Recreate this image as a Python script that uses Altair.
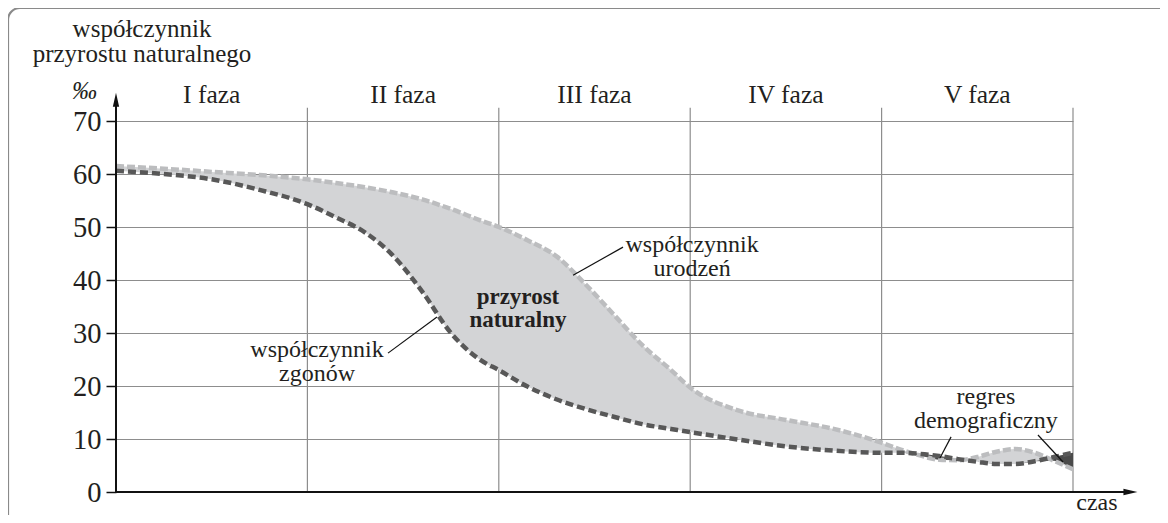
import altair as alt
import pandas as pd

FONT = "Liberation Serif"
INK = "#231f20"

# ---- data ----
PHASES = ["I faza", "II faza", "III faza", "IV faza", "V faza"]
PHASE_CENTERS = [0.5, 1.5, 2.5, 3.5, 4.5]
PHASE_BOUNDS = [1, 2, 3, 4, 5]
Y_TICKS = [0, 10, 20, 30, 40, 50, 60, 70]

X = [0, 0.25, 0.5, 0.75, 1.0, 1.15, 1.3, 1.45, 1.6, 1.75, 1.9,
     2.0, 2.15, 2.3, 2.45, 2.6, 2.75, 2.9, 3.0, 3.25, 3.5, 3.75,
     4.0, 4.1, 4.2, 4.3, 4.4, 4.5, 4.6, 4.7, 4.8, 4.9, 5.0]
BIRTH = [61.5, 61.0, 60.4, 59.8, 59.0, 58.3, 57.5, 56.5, 55.2, 53.4, 51.3,
         50.0, 47.5, 44.5, 39.3, 33.5, 27.7, 23.0, 19.7, 15.4, 13.6, 11.9,
         9.3, 8.0, 6.9, 6.1, 6.0, 6.6, 7.6, 8.1, 7.4, 5.9, 4.3]
DEATH = [60.6, 60.0, 59.0, 57.0, 54.3, 51.8, 49.0, 44.5, 37.8, 30.0, 25.0,
         23.0, 19.9, 17.5, 15.7, 14.2, 12.8, 11.9, 11.3, 9.9, 8.6, 7.8,
         7.4, 7.4, 7.2, 6.8, 6.2, 5.7, 5.3, 5.3, 5.8, 6.6, 7.4]

# annotation texts (centre x in phase units, first-line baseline in per-mille units)
TITLE_TEXT = ["współczynnik\nprzyrostu naturalnego"]
TITLE_X = [0.136]
TITLE_Y = [85.9]

LABEL_TEXT = ["współczynnik\nurodzeń", "współczynnik\nzgonów",
              "regres\ndemograficzny", "czas"]
LABEL_X = [3.01, 1.05, 4.545, 5.125]
LABEL_Y = [45.2, 25.5, 16.6, -3.4]

BOLD_TEXT = ["przyrost\nnaturalny"]
BOLD_X = [2.10]
BOLD_Y = [35.5]

PERMILLE_X = [-0.165]
PERMILLE_Y = [74.1]
PHASE_LABEL_Y = [73.4] * 5

# leader lines
LEAD_X = [2.649, 1.421, 4.363, 4.817]
LEAD_Y = [46.2, 26.2, 10.4, 10.75]
LEAD_X2 = [2.388, 1.677, 4.305, 4.948]
LEAD_Y2 = [40.9, 33.0, 6.4, 5.66]

# ---- scales / axes ----
xs = alt.Scale(domain=[0, 5], nice=False, zero=False)
ys = alt.Scale(domain=[0, 70], nice=False, zero=False)
YAXIS = alt.Axis(values=Y_TICKS, title=None, grid=True, gridColor="#8d8d8d",
                 gridWidth=1.2, domain=False, tickColor="#111111", tickSize=10,
                 tickWidth=1.5, labelFont=FONT, labelFontSize=28.5,
                 labelColor=INK, labelPadding=5)


def XE(f):
    return alt.X(f, type="quantitative", scale=xs, axis=None)


def YE(f):
    return alt.Y(f, type="quantitative", scale=ys, axis=YAXIS)


df = pd.DataFrame({"x": X, "birth": BIRTH, "death": DEATH})

frame = alt.Chart(pd.DataFrame({"a": [0]})).mark_rect(
    fill=None, stroke="#8a8a8a", strokeWidth=2.2, cornerRadius=12
).encode(x=alt.value(-108), x2=alt.value(1100), y=alt.value(-113), y2=alt.value(420))

vgrid = alt.Chart(pd.DataFrame({"x": PHASE_BOUNDS, "y0": [0] * 5, "y1": [72.5] * 5})).mark_rule(
    color="#8d8d8d", strokeWidth=1.2
).encode(x=XE("x"), y=YE("y0"), y2="y1")

area = alt.Chart(df).mark_area(interpolate="monotone", color="#d3d4d6").encode(
    x=XE("x"), y=YE("birth"), y2="death")

dark = alt.Chart(df).transform_filter("datum.x >= 4").transform_calculate(
    lo="min(datum.birth, datum.death)"
).mark_area(interpolate="monotone", color="#4a4a4a").encode(
    x=XE("x"), y=YE("death"), y2="lo:Q")

birth_line = alt.Chart(df).mark_line(
    interpolate="monotone", color="#bcbdbf", strokeWidth=4.5, strokeDash=[8, 3]
).encode(x=XE("x"), y=YE("birth"))

death_line = alt.Chart(df).mark_line(
    interpolate="monotone", color="#585858", strokeWidth=4.5, strokeDash=[8, 4]
).encode(x=XE("x"), y=YE("death"))

yaxis_line = alt.Chart(pd.DataFrame({"x": [0], "y0": [0], "y1": [74.0]})).mark_rule(
    color="#111111", strokeWidth=2
).encode(x=XE("x"), y=YE("y0"), y2="y1")
xaxis_line = alt.Chart(pd.DataFrame({"x0": [0], "x1": [5.3], "y": [0]})).mark_rule(
    color="#111111", strokeWidth=2.2
).encode(x=XE("x0"), x2="x1", y=YE("y"))

yarrow = alt.Chart(pd.DataFrame({"x": [0], "y": [74.0]})).mark_point(
    shape="M0,-1L0.45,1L-0.45,1Z", size=196, filled=True, color="#111111", opacity=1
).encode(x=XE("x"), y=YE("y"))
xarrow = alt.Chart(pd.DataFrame({"x": [5.3], "y": [0]})).mark_point(
    shape="M1,0L-1,0.45L-1,-0.45Z", size=196, filled=True, color="#111111", opacity=1
).encode(x=XE("x"), y=YE("y"))

leaders = alt.Chart(pd.DataFrame({"x": LEAD_X, "y": LEAD_Y, "x2": LEAD_X2, "y2": LEAD_Y2})).mark_rule(
    color="#111111", strokeWidth=1.2
).encode(x=XE("x"), y=YE("y"), x2="x2", y2="y2")

phase_text = alt.Chart(pd.DataFrame({"x": PHASE_CENTERS, "y": PHASE_LABEL_Y, "t": PHASES})).mark_text(
    font=FONT, fontSize=25.5, color=INK, align="center", baseline="alphabetic"
).encode(x=XE("x"), y=YE("y"), text="t:N")

title = alt.Chart(pd.DataFrame({"x": TITLE_X, "y": TITLE_Y, "t": TITLE_TEXT})).mark_text(
    font=FONT, fontSize=25, color=INK, align="center", baseline="alphabetic",
    lineBreak="\n", lineHeight=25
).encode(x=XE("x"), y=YE("y"), text="t:N")

labels = alt.Chart(pd.DataFrame({"x": LABEL_X, "y": LABEL_Y, "t": LABEL_TEXT})).mark_text(
    font=FONT, fontSize=24, color=INK, align="center", baseline="alphabetic",
    lineBreak="\n", lineHeight=24
).encode(x=XE("x"), y=YE("y"), text="t:N")

bold = alt.Chart(pd.DataFrame({"x": BOLD_X, "y": BOLD_Y, "t": BOLD_TEXT})).mark_text(
    font=FONT, fontSize=23, fontWeight="bold", color=INK, align="center", baseline="alphabetic",
    lineBreak="\n", lineHeight=23
).encode(x=XE("x"), y=YE("y"), text="t:N")

permille = alt.Chart(pd.DataFrame({"x": PERMILLE_X, "y": PERMILLE_Y, "t": ["‰"]})).mark_text(
    font=FONT, fontSize=25, fontStyle="italic", color=INK, align="center", baseline="alphabetic"
).encode(x=XE("x"), y=YE("y"), text="t:N")

chart = alt.layer(
    frame, vgrid, area, dark, birth_line, death_line,
    yaxis_line, xaxis_line, yarrow, xarrow, leaders,
    phase_text, title, labels, bold, permille
).properties(
    width=957, height=371,
    padding={"left": 108, "top": 113, "right": 87, "bottom": 23},
    autosize=alt.AutoSizeParams(type="none"),
    background="white",
).configure_view(stroke=None)

chart.save("out.html", embed_options={"renderer": "svg", "actions": False})
